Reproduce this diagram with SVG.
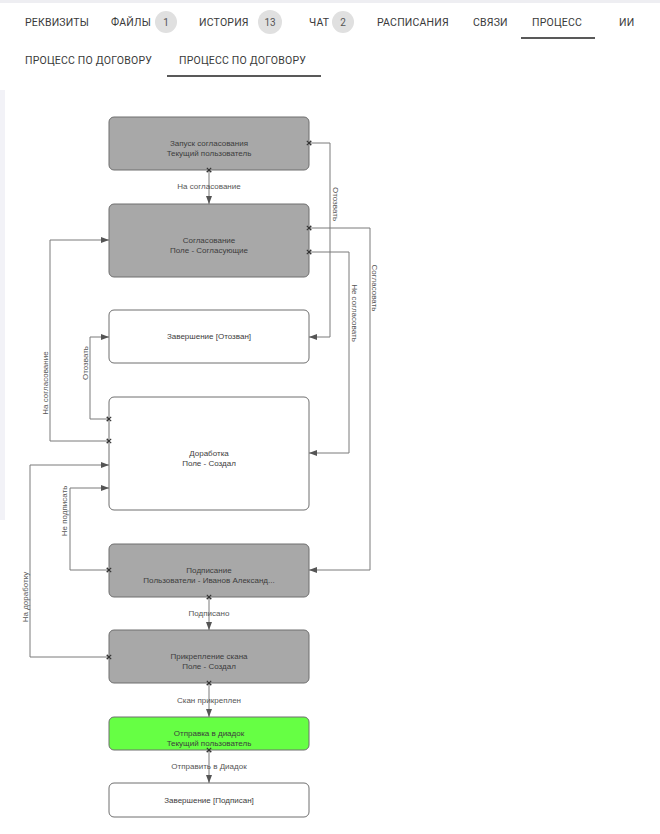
<svg xmlns="http://www.w3.org/2000/svg" width="660" height="834" viewBox="0 0 660 834">
<defs>
<style>
.tab{font-family:Roboto,"Liberation Sans",sans-serif;font-size:10.5px;fill:#3a3a3a;letter-spacing:0.2px;dominant-baseline:central}
.badge{fill:#e0e0e0}
.bt{font-family:Roboto,"Liberation Sans",sans-serif;font-size:10px;fill:#555;text-anchor:middle;dominant-baseline:central}
.node{stroke:#6f6f6f;stroke-width:1}
.gray{fill:#a8a8a8}
.white{fill:#fff}
.green{fill:#66ff44}
.nt{font-family:"Liberation Sans",Arial,sans-serif;font-size:8px;fill:#3c3c3c;text-anchor:middle;dominant-baseline:central}
.conn path{fill:none;stroke:#7a7a7a;stroke-width:1;marker-start:url(#x);marker-end:url(#arr)}
.lbl{font-family:"Liberation Sans",Arial,sans-serif;font-size:8px;fill:#555;text-anchor:middle;dominant-baseline:central}
</style>
<marker id="arr" viewBox="0 0 8 6" refX="8" refY="3" markerWidth="8" markerHeight="6" markerUnits="userSpaceOnUse" orient="auto">
<path d="M0,0 L8,3 L0,6 Z" fill="#555"/>
</marker>
<marker id="x" viewBox="-3 -3 6 6" refX="0" refY="0" markerWidth="6" markerHeight="6" markerUnits="userSpaceOnUse" orient="auto">
<path d="M-2.2,-2.2 L2.2,2.2 M-2.2,2.2 L2.2,-2.2" stroke="#333" stroke-width="1.1" fill="none"/>
</marker>
</defs>
<rect x="0" y="0" width="660" height="834" fill="#fff"/>
<rect x="0" y="0" width="660" height="3" fill="#eeeef2"/>
<rect x="0" y="90" width="5" height="430" fill="#f2f2f7"/>

<g id="tabs">
<text class="tab" x="25" y="22">РЕКВИЗИТЫ</text>
<text class="tab" x="111" y="22">ФАЙЛЫ</text>
<circle class="badge" cx="166" cy="22" r="11"/>
<text class="bt" x="166" y="22">1</text>
<text class="tab" x="199" y="22">ИСТОРИЯ</text>
<circle class="badge" cx="270" cy="22" r="12"/>
<text class="bt" x="270" y="22">13</text>
<text class="tab" x="309" y="22">ЧАТ</text>
<circle class="badge" cx="343" cy="22" r="11"/>
<text class="bt" x="343" y="22">2</text>
<text class="tab" x="377" y="22">РАСПИСАНИЯ</text>
<text class="tab" x="473" y="22">СВЯЗИ</text>
<text class="tab" x="532" y="22">ПРОЦЕСС</text>
<line x1="521" y1="38" x2="595" y2="38" stroke="#222" stroke-width="1.5"/>
<text class="tab" x="619" y="22">ИИ</text>
<text class="tab" x="25" y="60">ПРОЦЕСС ПО ДОГОВОРУ</text>
<text class="tab" x="179" y="60">ПРОЦЕСС ПО ДОГОВОРУ</text>
<line x1="167" y1="76" x2="321" y2="76" stroke="#222" stroke-width="1.5"/>
</g>

<g id="connectors" class="conn">
<path d="M209,170 V204"/>
<path d="M309,143 H330 V337 H309"/>
<path d="M309,228 H370 V570 H309"/>
<path d="M309,252 H349 V453 H309"/>
<path d="M109,441 H50 V240 H109"/>
<path d="M109,419 H90 V337 H109"/>
<path d="M109,570 H70 V488 H109"/>
<path d="M109,657 H30 V465 H109"/>
<path d="M209,597 V630"/>
<path d="M209,683 V717"/>
<path d="M209,750 V783"/>
</g>

<g id="labels">
<text class="lbl" x="209" y="186">На согласование</text>
<text class="lbl" transform="translate(335,204) rotate(90)">Отозвать</text>
<text class="lbl" transform="translate(374,288) rotate(90)">Согласовать</text>
<text class="lbl" transform="translate(354,313) rotate(90)">Не согласовать</text>
<text class="lbl" transform="translate(45,383) rotate(-90)">На согласование</text>
<text class="lbl" transform="translate(85,363) rotate(-90)">Отозвать</text>
<text class="lbl" transform="translate(64,511) rotate(-90)">Не подписать</text>
<text class="lbl" transform="translate(25,597) rotate(-90)">На доработку</text>
<text class="lbl" x="209" y="613">Подписано</text>
<text class="lbl" x="209" y="700">Скан прикреплен</text>
<text class="lbl" x="209" y="766">Отправить в Диадок</text>
</g>

<g id="n1"><rect class="node gray" x="109" y="117" width="200" height="53" rx="5"/>
<text class="nt" x="209" y="143">Запуск согласования</text><text class="nt" x="209" y="153">Текущий пользователь</text></g>
<g id="n2"><rect class="node gray" x="109" y="204" width="200" height="73" rx="5"/>
<text class="nt" x="209" y="240">Согласование</text><text class="nt" x="209" y="250">Поле - Согласующие</text></g>
<g id="n3"><rect class="node white" x="109" y="310" width="200" height="53" rx="5"/>
<text class="nt" x="209" y="336">Завершение [Отозван]</text></g>
<g id="n4"><rect class="node white" x="109" y="397" width="200" height="113" rx="5"/>
<text class="nt" x="209" y="453">Доработка</text><text class="nt" x="209" y="463">Поле - Создал</text></g>
<g id="n5"><rect class="node gray" x="109" y="544" width="200" height="53" rx="5"/>
<text class="nt" x="209" y="570">Подписание</text><text class="nt" x="209" y="580">Пользователи - Иванов Александ...</text></g>
<g id="n6"><rect class="node gray" x="109" y="630" width="200" height="53" rx="5"/>
<text class="nt" x="209" y="656">Прикрепление скана</text><text class="nt" x="209" y="666">Поле - Создал</text></g>
<g id="n7"><rect class="node green" x="109" y="717" width="200" height="33" rx="5"/>
<text class="nt" x="209" y="733">Отправка в диадок</text><text class="nt" x="209" y="743">Текущий пользователь</text></g>
<g id="n8"><rect class="node white" x="109" y="783" width="200" height="34" rx="5"/>
<text class="nt" x="209" y="800">Завершение [Подписан]</text></g>

<g id="markers-over">
<path d="M209,170 V171" fill="none" stroke="none" style="marker-start:url(#x)"/>
<path d="M309,143 H310" fill="none" stroke="none" style="marker-start:url(#x)"/>
<path d="M309,228 H310" fill="none" stroke="none" style="marker-start:url(#x)"/>
<path d="M309,252 H310" fill="none" stroke="none" style="marker-start:url(#x)"/>
<path d="M109,441 H108" fill="none" stroke="none" style="marker-start:url(#x)"/>
<path d="M109,419 H108" fill="none" stroke="none" style="marker-start:url(#x)"/>
<path d="M109,570 H108" fill="none" stroke="none" style="marker-start:url(#x)"/>
<path d="M109,657 H108" fill="none" stroke="none" style="marker-start:url(#x)"/>
<path d="M209,597 V598" fill="none" stroke="none" style="marker-start:url(#x)"/>
<path d="M209,683 V684" fill="none" stroke="none" style="marker-start:url(#x)"/>
<path d="M209,750 V751" fill="none" stroke="none" style="marker-start:url(#x)"/>
</g>
</svg>
